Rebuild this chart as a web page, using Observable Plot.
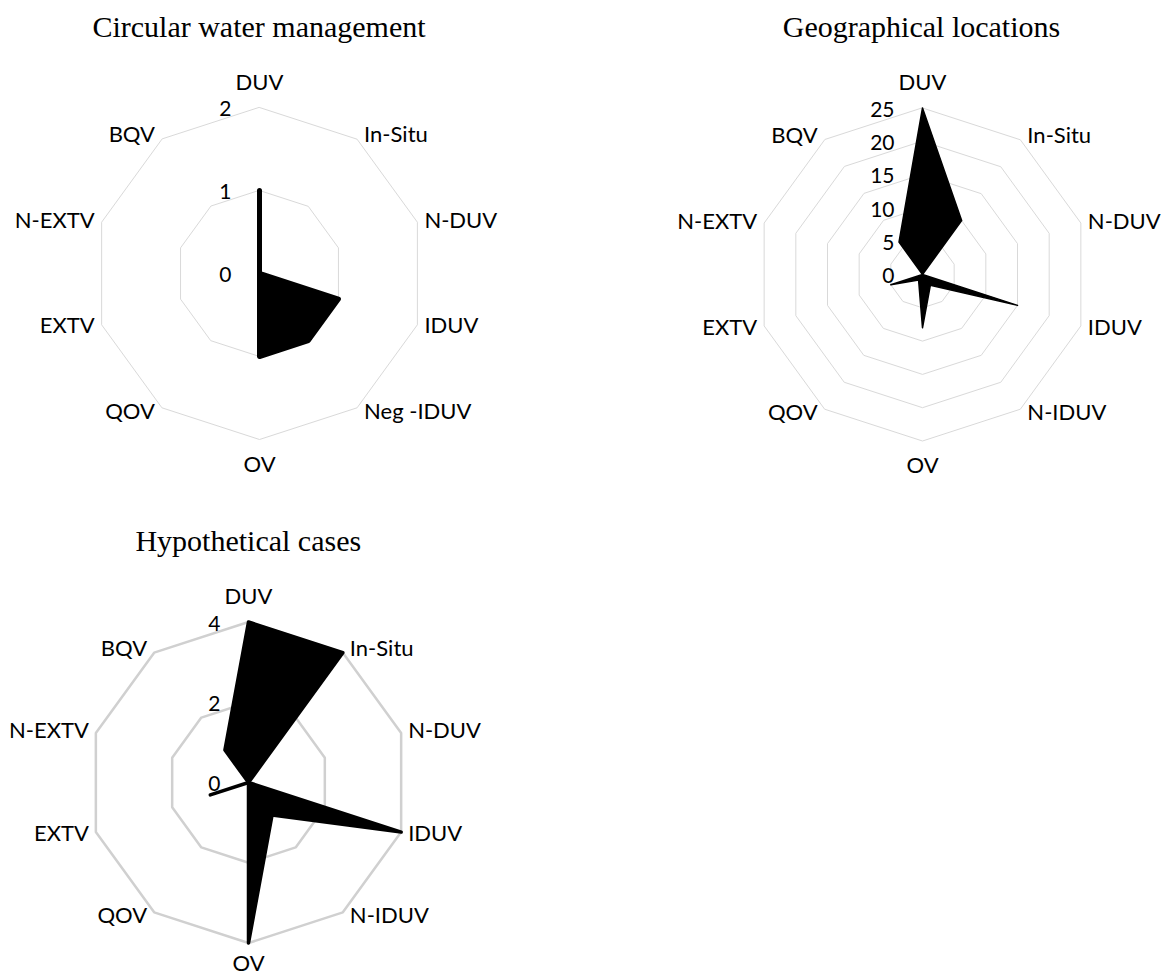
<!DOCTYPE html>
<html>
<head>
<meta charset="utf-8">
<script src="https://cdn.jsdelivr.net/npm/d3@7"></script>
<script src="https://cdn.jsdelivr.net/npm/@observablehq/plot@0.6"></script>
<style>
  html, body { margin: 0; padding: 0; background: #fff; }
  #page { position: relative; width: 1163px; height: 977px; overflow: hidden; background: #fff; }
  .title { position: absolute; font-family: "Liberation Serif", "Times New Roman", serif; font-size: 30px; line-height: 30px; color: #000; white-space: nowrap; transform: translateX(-50%); }
  .chart { position: absolute; }
  .chart svg { overflow: visible; background: transparent !important; }
</style>
</head>
<body>
<div id="page"></div>
<script>
// ---- data ----
const titles = ["Circular water management", "Geographical locations", "Hypothetical cases"];

const categories1 = ["DUV", "In-Situ", "N-DUV", "IDUV", "Neg -IDUV", "OV", "QOV", "EXTV", "N-EXTV", "BQV"];
const values1 = [1, 0, 0, 1, 1, 1, 0, 0, 0, 0];
const ticks1 = [0, 1, 2];

const categories2 = ["DUV", "In-Situ", "N-DUV", "IDUV", "N-IDUV", "OV", "QOV", "EXTV", "N-EXTV", "BQV"];
const values2 = [25, 10, 0, 15, 2, 8, 1, 5, 0, 6];
const ticks2 = [0, 5, 10, 15, 20, 25];

const categories3 = ["DUV", "In-Situ", "N-DUV", "IDUV", "N-IDUV", "OV", "QOV", "EXTV", "N-EXTV", "BQV"];
const values3 = [4, 4, 0, 4, 1, 4, 0, 1, 0, 1];
const ticks3 = [0, 2, 4];

// ---- layout ----
const W = 480, H = 440;
const LABEL_FONT = "Lato, 'Open Sans', sans-serif";

function radar(cfg) {
  const {categories, values, ticks, cx, cy, R, ringColor, ringWidth, strokeWidth, title, titleTop, bottomPad} = cfg;
  const n = categories.length;
  const max = d3.max(ticks);
  const k = max / R; // data units per pixel
  const ang = i => (i * 2 * Math.PI) / n;

  const pts = values.map((v, i) => ({cat: categories[i], v, a: ang(i)}));
  const rings = ticks.filter(t => t > 0).flatMap(t => categories.map((c, i) => ({t, a: ang(i)})));
  const labels = categories.map((c, i) => {
    const a = ang(i), s = Math.sin(a), co = Math.cos(a);
    const vertical = Math.abs(s) < 0.1;
    const anchor = vertical ? "middle" : s > 0 ? "start" : "end";
    const vpad = co > 0 ? 25 : bottomPad;
    return {
      label: c,
      anchor,
      x: max * s + (vertical ? 0 : Math.sign(s) * 7 * k),
      y: max * co + (vertical ? Math.sign(co) * vpad * k : co * 5 * k)
    };
  });

  const textMarks = ["start", "middle", "end"].map(anchor =>
    Plot.text(labels.filter(d => d.anchor === anchor), {
      x: "x", y: "y", text: "label", textAnchor: anchor,
      fontSize: 22, fontFamily: LABEL_FONT, fill: "#000"
    })
  );

  const svg = Plot.plot({
    width: W, height: H,
    marginTop: 0, marginRight: 0, marginBottom: 0, marginLeft: 0,
    x: {domain: [-W / 2 * k, W / 2 * k], range: [0, W], axis: null},
    y: {domain: [-H / 2 * k, H / 2 * k], range: [H, 0], axis: null},
    style: {background: "transparent", overflow: "visible"},
    marks: [
      Plot.line(rings, {
        x: d => d.t * Math.sin(d.a), y: d => d.t * Math.cos(d.a), z: "t",
        stroke: ringColor, strokeWidth: ringWidth, curve: "linear-closed", strokeLinejoin: "miter"
      }),
      Plot.line(pts, {
        x: d => d.v * Math.sin(d.a), y: d => d.v * Math.cos(d.a),
        fill: "#000", stroke: "#000", strokeWidth, curve: "linear-closed",
        strokeLinejoin: "round", strokeLinecap: "round"
      }),
      Plot.text(ticks, {
        x: () => 0, y: d => d, text: d => String(d), dx: -28, dy: 2, textAnchor: "end",
        fontSize: 21, fontFamily: LABEL_FONT, fill: "#000"
      }),
      ...textMarks
    ]
  });
  svg.style.overflow = "visible";
  svg.style.background = "transparent";

  const page = document.getElementById("page");
  const holder = document.createElement("div");
  holder.className = "chart";
  holder.style.left = (cx - W / 2) + "px";
  holder.style.top = (cy - H / 2) + "px";
  holder.style.width = W + "px";
  holder.style.height = H + "px";
  holder.appendChild(svg);
  page.appendChild(holder);

  const t = document.createElement("div");
  t.className = "title";
  t.textContent = title;
  t.style.left = cx + "px";
  t.style.top = titleTop + "px";
  page.appendChild(t);
}

radar({categories: categories1, values: values1, ticks: ticks1, cx: 259, cy: 272.5, R: 166,
  ringColor: "#d9d9d9", ringWidth: 1, strokeWidth: 5, title: titles[0], titleTop: 12, bottomPad: 25});
radar({categories: categories2, values: values2, ticks: ticks2, cx: 921.5, cy: 273.5, R: 166.5,
  ringColor: "#d9d9d9", ringWidth: 1, strokeWidth: 1.5, title: titles[1], titleTop: 12, bottomPad: 25});
radar({categories: categories3, values: values3, ticks: ticks3, cx: 248.3, cy: 782.3, R: 160.5,
  ringColor: "#d0d0d0", ringWidth: 2.5, strokeWidth: 3.5, title: titles[2], titleTop: 525.5, bottomPad: 21});
</script>
</body>
</html>
